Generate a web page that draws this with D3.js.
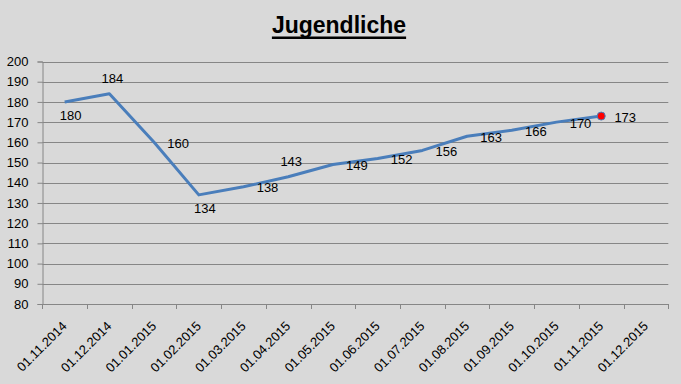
<!DOCTYPE html>
<html lang="de">
<head>
	<meta charset="utf-8">
	<title>Jugendliche</title>
	<script src="https://d3js.org/d3.v7.min.js"></script>
	<style type="text/css">
		body { margin: 0; background-color: #d9d9d9; }
		svg { display: block; font-family: "Liberation Sans", Arial, sans-serif; }
	</style>
</head>
<body>
	<script type="text/javascript">

		// data
		var months = ["01.11.2014", "01.12.2014", "01.01.2015", "01.02.2015", "01.03.2015", "01.04.2015",
			"01.05.2015", "01.06.2015", "01.07.2015", "01.08.2015", "01.09.2015", "01.10.2015",
			"01.11.2015", "01.12.2015"];
		var values = [180, 184, 160, 134, 138, 143, 149, 152, 156, 163, 166, 170, 173];
		// where each value label sits relative to its point
		var labelSide = ["below", "above", "right", "below", "right", "above", "right", "right",
			"right", "right", "right", "right", "right"];
		var yTicks = [80, 90, 100, 110, 120, 130, 140, 150, 160, 170, 180, 190, 200];

		var w = 681, h = 384;
		// plot area (note: "top" is reserved by window, so use other names)
		var plotL = 42.3, plotR = 668.3, plotT = 61.5, plotB = 304;

		var svg = d3.select("body").append("svg")
			.attr("width", w)
			.attr("height", h);

		var x = d3.scaleBand().domain(months).range([plotL, plotR]).padding(0);
		var y = d3.scaleLinear().domain([80, 200]).range([plotB, plotT]);

		// title, with a thicker underline drawn by hand
		var title = svg.append("text")
			.attr("x", 339)
			.attr("y", 33)
			.attr("text-anchor", "middle")
			.style("font-size", "23px")
			.style("font-weight", "bold")
			.text("Jugendliche");
		var tw = title.node().getComputedTextLength();
		svg.append("rect")
			.attr("x", 339 - tw / 2)
			.attr("y", 36.5)
			.attr("width", tw)
			.attr("height", 2.5)
			.style("fill", "#000");

		// gridlines
		svg.append("g").selectAll("line")
			.data(yTicks.slice(1))
			.enter().append("line")
			.attr("x1", plotL).attr("x2", plotR)
			.attr("y1", function(d) { return Math.round(y(d)) + 0.5; })
			.attr("y2", function(d) { return Math.round(y(d)) + 0.5; })
			.style("stroke", "#868686");

		// y axis
		var yAxis = svg.append("g")
			.attr("transform", "translate(" + (Math.round(plotL) + 0.5) + ",0)")
			.call(d3.axisLeft(y).tickValues(yTicks).tickSize(5).tickPadding(9));
		yAxis.select(".domain").style("stroke", "#868686");
		yAxis.selectAll(".tick line").style("stroke", "#868686");
		yAxis.selectAll(".tick text").style("font-size", "13px").style("font-family", "Liberation Sans, Arial, sans-serif").attr("fill", "#000");

		// x axis, ticks between categories
		var bounds = months.map(function(d) { return x(d); }).concat([plotR]);
		var xg = svg.append("g");
		xg.append("line")
			.attr("x1", plotL).attr("x2", plotR)
			.attr("y1", Math.round(plotB) + 0.5).attr("y2", Math.round(plotB) + 0.5)
			.style("stroke", "#868686");
		xg.selectAll("line.tick")
			.data(bounds)
			.enter().append("line")
			.attr("class", "tick")
			.attr("x1", function(d) { return Math.round(d) + 0.5; })
			.attr("x2", function(d) { return Math.round(d) + 0.5; })
			.attr("y1", plotB).attr("y2", plotB + 5)
			.style("stroke", "#868686");
		xg.selectAll("text")
			.data(months)
			.enter().append("text")
			.attr("transform", function(d) {
				return "translate(" + (x(d) + x.bandwidth() / 2 + 3) + "," + (plotB + 23) + ") rotate(-45)";
			})
			.attr("text-anchor", "end")
			.style("font-size", "13px")
			.text(function(d) { return d; });

		// line
		var line = d3.line()
			.x(function(d, i) { return x(months[i]) + x.bandwidth() / 2; })
			.y(function(d) { return y(d); });

		svg.append("path")
			.datum(values)
			.attr("d", line)
			.style("fill", "none")
			.style("stroke", "#4a7ebb")
			.style("stroke-width", 3)
			.style("stroke-linejoin", "round");

		// last point marker
		var last = values.length - 1;
		svg.append("circle")
			.attr("cx", x(months[last]) + x.bandwidth() / 2)
			.attr("cy", y(values[last]))
			.attr("r", 4)
			.style("fill", "#ff0000")
			.style("stroke", "#4a7ebb")
			.style("stroke-width", 1);

		// value labels
		svg.append("g").selectAll("text")
			.data(values)
			.enter().append("text")
			.attr("x", function(d, i) {
				var cx = x(months[i]) + x.bandwidth() / 2;
				return labelSide[i] == "right" ? cx + 24 : cx + (labelSide[i] == "below" ? 6 : 3);
			})
			.attr("y", function(d, i) {
				var cy = y(d);
				if (labelSide[i] == "below") return cy + 14;
				if (labelSide[i] == "above") return cy - 15;
				return cy + 1;
			})
			.attr("text-anchor", "middle")
			.attr("dominant-baseline", "central")
			.style("font-size", "13px")
			.text(function(d) { return d; });

	</script>
</body>
</html>
